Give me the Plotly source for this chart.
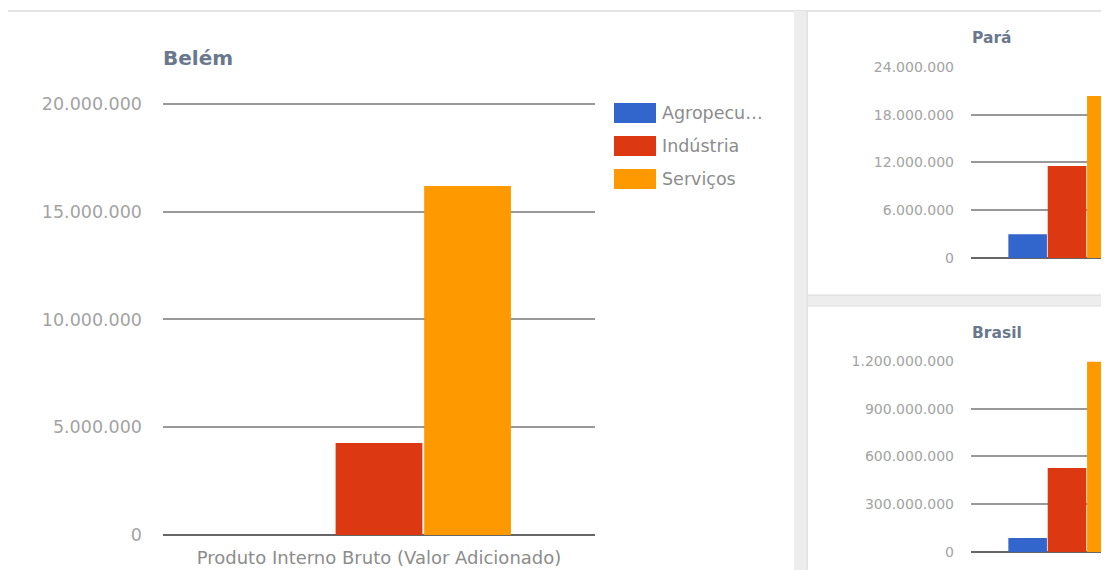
import plotly.graph_objects as go

OFF = 8  # page body margin: figure is drawn 8 px right / down of the window corner
W, H = 1109 - OFF, 570 - OFF  # figure fills the window exactly

# ---- data ----
category = ["Produto Interno Bruto (Valor Adicionado)"]
series_names = ["Agropecuária", "Indústria", "Serviços"]
legend_labels = ["Agropecu…", "Indústria", "Serviços"]
series_colors = ["#3366cc", "#dc3912", "#ff9900"]

belem_values = [0, 4270000, 16190000]
para_values = [3000000, 11560000, 20360000]
brasil_values = [88000000, 528000000, 1195000000]

belem_ticks = [0, 5000000, 10000000, 15000000, 20000000]
para_ticks = [0, 6000000, 12000000, 18000000, 24000000]
brasil_ticks = [0, 300000000, 600000000, 900000000, 1200000000]

PAD = 1.004  # tiny headroom so the top gridline is drawn
FONT = "DejaVu Sans"


def px(x):
    return (x - OFF) / W


def py(y):
    return 1 - (y - OFF) / H


fig = go.Figure()

charts = [
    ("x", "y", belem_values),
    ("x2", "y2", para_values),
    ("x3", "y3", brasil_values),
]
for xa, ya, vals in charts:
    for name, v, c in zip(series_names, vals, series_colors):
        fig.add_trace(go.Bar(
            x=category, y=[v], name=name, marker=dict(color=c, line=dict(width=0)),
            xaxis=xa, yaxis=ya, showlegend=False,
            hovertemplate="%{x}<br>" + name + ": %{y:,d}<extra></extra>",
        ))

tick_font_main = dict(family=FONT, size=17.5, color="#a3a3a3")
tick_font_small = dict(family=FONT, size=14, color="#a3a3a3")


def yax(bottom_px, top_px, ticks, font, standoff):
    h = bottom_px - top_px
    top_ext = top_px - h * (PAD - 1)
    return dict(
        domain=[py(bottom_px), py(top_ext)], range=[0, ticks[-1] * PAD], tickvals=ticks,
        tickformat=",d", automargin=False,
        showgrid=True, gridcolor="#999999", gridwidth=2,
        zeroline=True, zerolinecolor="#666666", zerolinewidth=2,
        showline=False, ticks="", tickfont=font, ticklabelstandoff=standoff,
        fixedrange=True,
    )


# small charts: category centre at x=1067 px, 192 px per category unit
right_edge_val = (OFF + W - 1067) / 192.0

fig.update_layout(
    width=W, height=H,
    margin=dict(l=0, r=0, t=0, b=0, pad=0, autoexpand=False),
    paper_bgcolor="white", plot_bgcolor="rgba(0,0,0,0)",
    separators=",.",
    barmode="group", bargap=0.385, bargroupgap=0.02,
    showlegend=False,
    xaxis=dict(domain=[px(163), px(595)], range=[-0.5, 0.5], showgrid=False, automargin=False,
               showline=False, ticks="", tickfont=dict(family=FONT, size=18, color="#8c8c8c"),
               ticklabelstandoff=10, fixedrange=True),
    yaxis=yax(535, 104, belem_ticks, tick_font_main, 20),
    xaxis2=dict(domain=[px(971), 1], range=[-0.5, right_edge_val], showgrid=False, showline=False,
                automargin=False, showticklabels=False, ticks="", anchor="y2", fixedrange=True),
    yaxis2=yax(258, 67, para_ticks, tick_font_small, 16) | dict(anchor="x2"),
    xaxis3=dict(domain=[px(971), 1], range=[-0.5, right_edge_val], showgrid=False, showline=False,
                automargin=False, showticklabels=False, ticks="", anchor="y3", fixedrange=True),
    yaxis3=yax(552, 361, brasil_ticks, tick_font_small, 16) | dict(anchor="x3"),
)

shapes = []
# top strip border
shapes.append(dict(type="line", xref="paper", yref="paper", x0=0, x1=1, y0=py(11), y1=py(11),
                   line=dict(color="#e4e4e4", width=2), layer="below"))
# vertical gap between left and right panels
shapes.append(dict(type="rect", xref="paper", yref="paper", x0=px(794), x1=px(808), y0=0, y1=py(11),
                   fillcolor="#ededed", line=dict(width=0), layer="below"))
shapes.append(dict(type="line", xref="paper", yref="paper", x0=px(807), x1=px(807), y0=0, y1=py(11),
                   line=dict(color="#dcdcdc", width=1), layer="below"))
# horizontal gap between right panels
shapes.append(dict(type="rect", xref="paper", yref="paper", x0=px(808), x1=1, y0=py(306), y1=py(295),
                   fillcolor="#ededed", line=dict(width=0), layer="below"))
shapes.append(dict(type="line", xref="paper", yref="paper", x0=px(808), x1=1, y0=py(295), y1=py(295),
                   line=dict(color="#dcdcdc", width=1), layer="below"))
shapes.append(dict(type="line", xref="paper", yref="paper", x0=px(808), x1=1, y0=py(306), y1=py(306),
                   line=dict(color="#dcdcdc", width=1), layer="below"))

annotations = []
# custom legend for main chart
leg_y = [113, 146, 179]
for lab, c, yy in zip(legend_labels, series_colors, leg_y):
    shapes.append(dict(type="rect", xref="paper", yref="paper", x0=px(614), x1=px(656),
                       y0=py(yy + 10), y1=py(yy - 10), fillcolor=c, line=dict(width=0)))
    annotations.append(dict(text=lab, xref="paper", yref="paper", x=px(660), y=py(yy),
                            xanchor="left", yanchor="middle", showarrow=False,
                            font=dict(family=FONT, size=17.5, color="#8c8c8c")))

# titles
annotations.append(dict(text="<b>Belém</b>", xref="paper", yref="paper", x=px(161), y=py(58),
                        xanchor="left", yanchor="middle", showarrow=False,
                        font=dict(family=FONT, size=20, color="#69788c")))
annotations.append(dict(text="<b>Pará</b>", xref="paper", yref="paper", x=px(970), y=py(38),
                        xanchor="left", yanchor="middle", showarrow=False,
                        font=dict(family=FONT, size=15.5, color="#69788c")))
annotations.append(dict(text="<b>Brasil</b>", xref="paper", yref="paper", x=px(970), y=py(333),
                        xanchor="left", yanchor="middle", showarrow=False,
                        font=dict(family=FONT, size=15.5, color="#69788c")))

fig.update_layout(shapes=shapes, annotations=annotations)

fig.write_html("out.html")
